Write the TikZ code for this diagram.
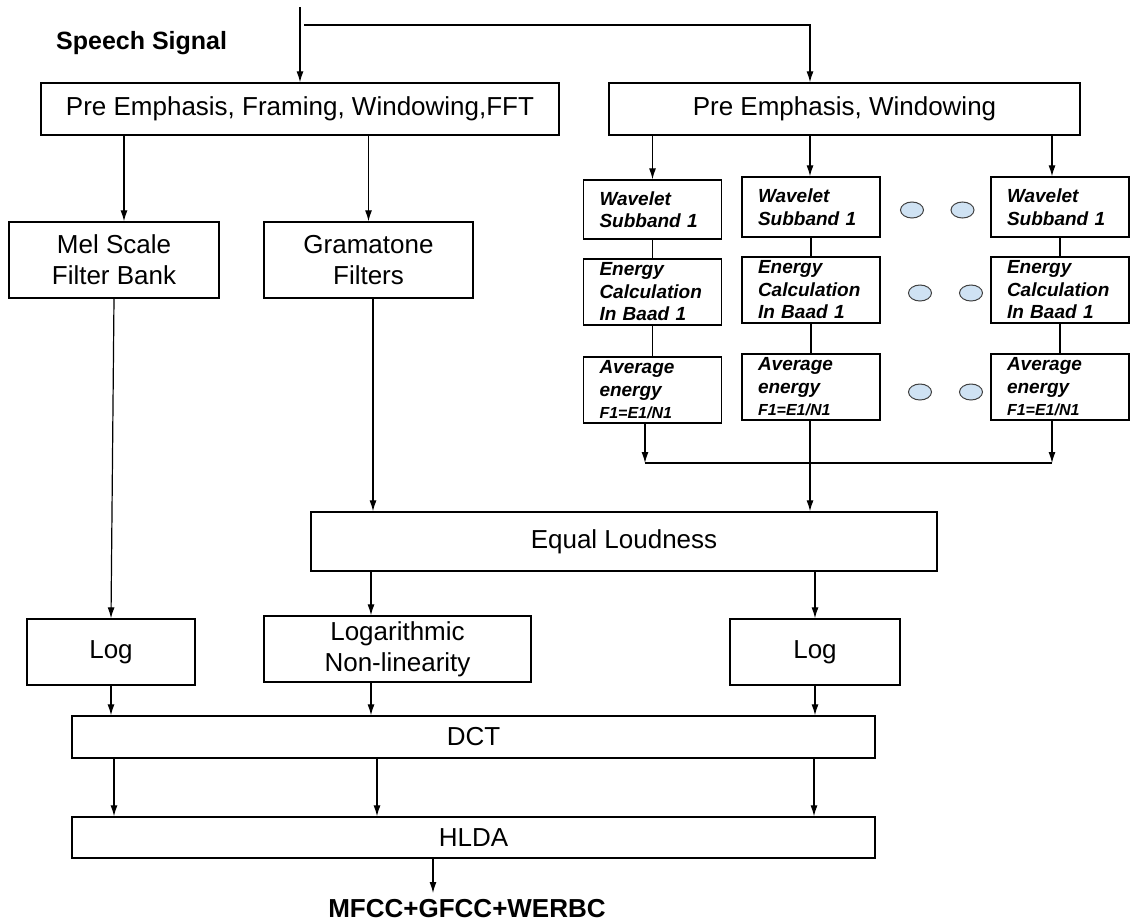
\documentclass[tikz,border=0pt]{standalone}
\usepackage{fontspec}
\setmainfont{Liberation Sans}
\usetikzlibrary{arrows.meta,shapes.geometric}
\definecolor{dotblue}{RGB}{207,226,243}
\begin{document}
\begin{tikzpicture}[x=1pt,y=-1pt,
  box/.style={draw, line width=1.3pt, inner sep=0pt, align=center, font=\fontsize{26}{31}\selectfont},
  wbox/.style={draw, line width=1.3pt, inner xsep=16pt, inner ysep=0pt, align=left, text width=106pt, minimum width=138pt, font=\fontsize{19}{22.5}\selectfont\bfseries\itshape},
  arr/.style={-{Latex[length=11pt,width=7pt]}, line width=1.2pt},
  ln/.style={line width=1.2pt},
  dot/.style={ellipse, draw=black!75, fill=dotblue, line width=1pt, minimum width=23pt, minimum height=16pt, inner sep=0pt}
]
\useasboundingbox (0,0) rectangle (1130,921);

% texts
\node[font=\fontsize{25}{30}\selectfont\bfseries, anchor=base west, inner sep=0pt] (sp) at (56,49) {Speech Signal};
\node[font=\fontsize{26}{30}\selectfont\bfseries, anchor=base, inner sep=0pt] (out) at (467,917) {MFCC+GFCC+WERBC};

% top boxes
\node[box, minimum width=518pt, minimum height=52pt] (pre1) at (300,109) {Pre Emphasis, Framing, Windowing,FFT};
\node[box, minimum width=471pt, minimum height=52pt] (pre2) at (844.5,109) {Pre Emphasis, Windowing};

\node[box, minimum width=210pt, minimum height=76pt] (mel) at (114,260) {Mel Scale\\Filter Bank};
\node[box, minimum width=209pt, minimum height=76pt] (gam) at (368.5,260) {Gramatone\\Filters};

% wavelet columns
\node[wbox, minimum height=59pt] (w1) at (652.5,209.5) {Wavelet\\Subband 1};
\node[wbox, minimum height=60pt] (w2) at (811,207) {Wavelet\\Subband 1};
\node[wbox, minimum height=60pt] (w3) at (1060,207) {Wavelet\\Subband 1};
\node[wbox, minimum height=66pt] (e1) at (652.5,292) {Energy\\Calculation\\In Baad 1};
\node[wbox, minimum height=66pt] (e2) at (811,290) {Energy\\Calculation\\In Baad 1};
\node[wbox, minimum height=66pt] (e3) at (1060,290) {Energy\\Calculation\\In Baad 1};
\node[wbox, minimum height=66pt] (a1) at (652.5,390) {Average\\energy\\{\fontsize{16}{22.5}\selectfont F1=E1/N1}};
\node[wbox, minimum height=66pt] (a2) at (811,387) {Average\\energy\\{\fontsize{16}{22.5}\selectfont F1=E1/N1}};
\node[wbox, minimum height=66pt] (a3) at (1060,387) {Average\\energy\\{\fontsize{16}{22.5}\selectfont F1=E1/N1}};

% ellipses
\node[dot] (d11) at (912,210) {};
\node[dot] (d12) at (962.5,210) {};
\node[dot] (d21) at (920,293) {};
\node[dot] (d22) at (971,293) {};
\node[dot] (d31) at (920,392) {};
\node[dot] (d32) at (971,392) {};

% lower boxes
\node[box, minimum width=626pt, minimum height=59pt] (eq) at (624,541.5) {Equal Loudness};
\node[box, minimum width=168pt, minimum height=66pt] (log1) at (111,652) {Log};
\node[box, minimum width=267pt, minimum height=66pt] (lognl) at (397.5,649) {Logarithmic\\Non-linearity};
\node[box, minimum width=170pt, minimum height=66pt] (log2) at (815,652) {Log};
\node[box, minimum width=803pt, minimum height=42pt] (dct) at (473.5,737) {DCT};
\node[box, minimum width=803pt, minimum height=41pt] (hlda) at (473.5,837.5) {HLDA};

% coordinates
\coordinate (top) at (300,7);
\coordinate (hs) at (304,25);
\coordinate (hr) at (810,25);
\coordinate (xa) at (124,0);
\coordinate (xb) at (1052,0);
\coordinate (xc) at (373,0);
\coordinate (xd) at (371,0);
\coordinate (xm) at (114,0);
\coordinate (m1) at (645,463);
\coordinate (m3) at (1052,463);
\coordinate (h1) at (114,0);
\coordinate (h2) at (377,0);
\coordinate (h3) at (814,0);
\coordinate (xo) at (433,893);

% connectors
\draw[arr] (top) -- (pre1.north);
\draw[arr] (hs) -- (hr) -- (hr |- pre2.north);
\draw[arr] (xa |- pre1.south) -- (xa |- mel.north);
\draw[arr] (pre1.south -| gam.north) -- (gam.north);
\draw[arr] (pre2.south -| w1.north) -- (w1.north);
\draw[arr] (pre2.south -| hr) -- (hr |- w2.north);
\draw[arr] (xb |- pre2.south) -- (xb |- w3.north);

\draw[ln] (w1.south) -- (e1.north);
\draw[ln] (e1.south) -- (a1.north);
\draw[ln] (w2.south) -- (e2.north);
\draw[ln] (e2.south) -- (a2.north);
\draw[ln] (w3.south) -- (e3.north);
\draw[ln] (e3.south) -- (a3.north);

\draw[arr] (a1.south -| m1) -- (m1);
\draw[arr] (a3.south -| m3) -- (m3);
\draw[ln] (m1) -- (m3);
\draw[arr] (a2.south -| hr) -- (hr |- eq.north);

\draw[arr] (xc |- gam.south) -- (xc |- eq.north);
\draw[arr] (xm |- mel.south) -- (log1.north);
\draw[arr] (xd |- eq.south) -- (xd |- lognl.north);
\draw[arr] (eq.south -| log2.north) -- (log2.north);

\draw[arr] (log1.south) -- (log1.south |- dct.north);
\draw[arr] (xd |- lognl.south) -- (xd |- dct.north);
\draw[arr] (log2.south) -- (log2.south |- dct.north);

\draw[arr] (h1 |- dct.south) -- (h1 |- hlda.north);
\draw[arr] (h2 |- dct.south) -- (h2 |- hlda.north);
\draw[arr] (h3 |- dct.south) -- (h3 |- hlda.north);

\draw[arr] (xo |- hlda.south) -- (xo);
\end{tikzpicture}
\end{document}
